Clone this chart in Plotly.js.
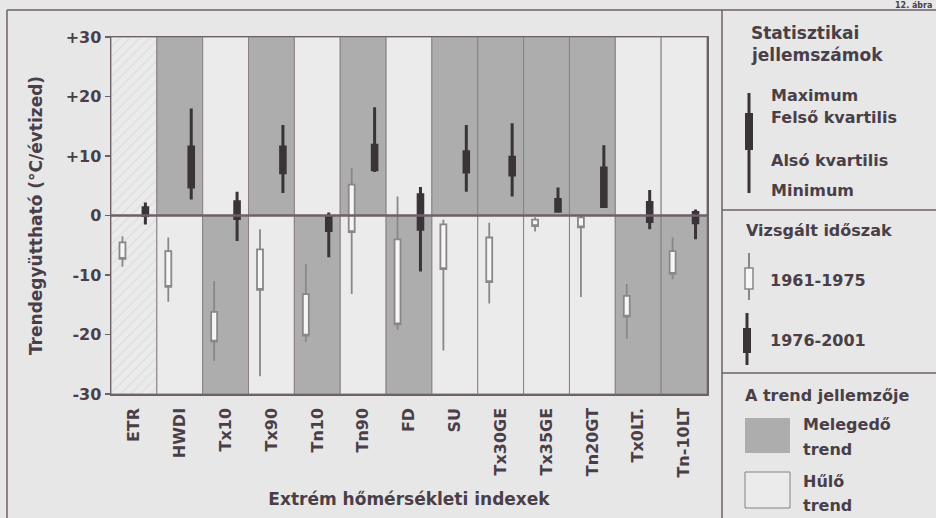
<!DOCTYPE html>
<html>
<head>
<meta charset="utf-8">
<script src="https://cdn.plot.ly/plotly-3.0.1.min.js"></script>
<style>
  html, body { margin: 0; padding: 0; background: #e7e7e7; }
  #chart { width: 936px; height: 518px; }
</style>
</head>
<body>
<div id="chart"></div>
<script>
// Extreme temperature indices
const categories = ['ETR', 'HWDI', 'Tx10', 'Tx90', 'Tn10', 'Tn90', 'FD', 'SU',
                    'Tx30GE', 'Tx35GE', 'Tn20GT', 'Tx0LT.', 'Tn-10LT'];

// +1: a positive trend means warming, -1: a negative trend means warming, 0: undefined
const warmingSign = [0, 1, -1, 1, -1, 1, -1, 1, 1, 1, 1, -1, -1];

// Trend coefficients (°C/decade), period 1961-1975
const earlyMin = [-8.6, -14.5, -24.4, -27.0, -21.2, -13.2, -19.2, -22.7, -14.8, -2.7, -13.7, -20.7, -10.7];
const earlyQ1  = [-7.3, -12.0, -21.2, -12.5, -20.2,  -2.8, -18.3,  -9.0, -11.2, -1.8,  -2.0, -17.0,  -9.8];
const earlyQ3  = [-4.5,  -6.0, -16.2,  -5.7, -13.2,   5.2,  -4.0,  -1.5,  -3.7, -0.7,  -0.3, -13.5,  -6.0];
const earlyMax = [-3.5,  -3.7, -11.0,  -2.3,  -8.2,   8.0,   3.2,  -0.7,  -1.2, -0.3,  -0.1, -11.5,  -3.7];

// Trend coefficients (°C/decade), period 1976-2001
const lateMin = [-1.5,  2.7, -4.3,  3.8, -7.0,  7.3, -9.4,  4.0,  3.2, 0.5,  1.3, -2.3, -4.0];
const lateQ1  = [ 0.0,  4.8, -0.5,  7.2, -2.5,  7.7, -2.3,  7.3,  6.8, 0.7,  1.5, -1.0, -1.2];
const lateQ3  = [ 1.3, 11.5,  2.3, 11.5, -0.3, 11.8,  3.5, 10.7,  9.8, 2.7,  8.0,  2.2,  0.5];
const lateMax = [ 2.2, 18.0,  4.0, 15.2,  0.5, 18.2,  4.8, 15.2, 15.5, 4.7, 11.8,  4.3,  1.0];

const yTickVals = [-30, -20, -10, 0, 10, 20, 30];
const yTickText = ['-30', '-20', '-10', '0', '+10', '+20', '+30'];

const legendTexts = {
  statsTitle: ['Statisztikai', 'jellemszámok'],
  stats: ['Maximum', 'Felső kvartilis', 'Alsó kvartilis', 'Minimum'],
  periodTitle: 'Vizsgált időszak',
  periods: ['1961-1975', '1976-2001'],
  trendTitle: 'A trend jellemzője',
  warm: ['Melegedő', 'trend'],
  cool: ['Hűlő', 'trend']
};

// ---- styling ----
const TEXT = '#4a3f48';
const FRAME = '#6e6069';
const GRAY = '#adadad';
const LIGHT = '#ebebeb';
const DARK = '#3a3438';
const FONT = 'DejaVu Sans';
const YLIM = 30;

const idx = categories.map((_, i) => i);

// Background cells: upper half (positive trend) and lower half (negative trend)
function cellColor(i, half) {
  const s = warmingSign[i];
  if (s === 0) return '#e2e2e2';
  return (s === half) ? GRAY : LIGHT;
}
function cellTrace(half) {
  return {
    type: 'bar',
    x: idx,
    y: idx.map(() => YLIM),
    base: idx.map(() => half === 1 ? 0 : -YLIM),
    width: 1,
    marker: {
      color: idx.map(i => cellColor(i, half)),
      line: { color: '#8b7f88', width: 1 },
      pattern: {
        shape: idx.map(i => warmingSign[i] === 0 ? '/' : ''),
        fgcolor: '#9e9e9e',
        size: 7,
        solidity: 0.3
      }
    },
    hoverinfo: 'skip'
  };
}

const zeroLine = {
  type: 'scatter',
  mode: 'lines',
  x: [-0.5, categories.length - 0.5],
  y: [0, 0],
  line: { color: FRAME, width: 2.5 },
  hoverinfo: 'skip'
};

const earlyBoxes = {
  type: 'box',
  name: legendTexts.periods[0],
  x: idx.map(i => i - 0.25),
  q1: earlyQ1, median: earlyQ1, q3: earlyQ3,
  lowerfence: earlyMin, upperfence: earlyMax,
  width: 0.13,
  whiskerwidth: 0,
  fillcolor: '#f6f6f6',
  line: { color: '#8a8689', width: 1.8 },
  hoverinfo: 'skip'
};

const lateBoxes = {
  type: 'box',
  name: legendTexts.periods[1],
  x: idx.map(i => i + 0.25),
  q1: lateQ1, median: lateQ1, q3: lateQ3,
  lowerfence: lateMin, upperfence: lateMax,
  width: 0.1,
  whiskerwidth: 0,
  fillcolor: DARK,
  line: { color: DARK, width: 3 },
  hoverinfo: 'skip'
};

// ---- page geometry (pixels) ----
const L = 111, T = 37, W = 596, H = 357;
const PX = x => (x - L) / W;
const PY = y => (T + H - y) / H;

function label(text, x, y, size, anchor, yanchor) {
  return {
    xref: 'paper', yref: 'paper', x: PX(x), y: PY(y),
    xanchor: anchor || 'left', yanchor: yanchor || 'middle',
    text: text, showarrow: false,
    font: { family: FONT, size: size || 16, color: TEXT, weight: 'bold' }
  };
}
function line(x0, y0, x1, y1, color, width) {
  return {
    type: 'line', xref: 'paper', yref: 'paper', layer: 'above',
    x0: PX(x0), y0: PY(y0), x1: PX(x1), y1: PY(y1),
    line: { color: color || FRAME, width: width || 1.5 }
  };
}
function rect(x0, y0, x1, y1, fill, color, width) {
  return {
    type: 'rect', xref: 'paper', yref: 'paper', layer: 'above',
    x0: PX(x0), y0: PY(y0), x1: PX(x1), y1: PY(y1),
    fillcolor: fill, line: { color: color || fill, width: width === undefined ? 0 : width }
  };
}

const shapes = [
  // outer frame and legend panel separators
  line(7, 10, 7, 518),
  line(7, 10, 936, 10),
  line(722, 10, 722, 518),
  line(722, 210, 936, 210),
  line(722, 373, 936, 373),
  // statistics key
  line(749, 93, 749, 193, DARK, 3),
  rect(745, 113, 753, 150, DARK),
  // period keys
  line(749, 253, 749, 300, '#8a8689', 2),
  rect(745, 268, 753, 289, '#f6f6f6', '#8a8689', 1.5),
  line(747, 313, 747, 365, DARK, 3),
  rect(743, 328, 751, 353, DARK),
  // trend keys
  rect(745, 418, 790, 453, GRAY),
  rect(745, 472, 790, 508, LIGHT, '#8b7f88', 1)
];

const annotations = [
  label('12. ábra', 934, 5, 8, 'right', 'middle'),
  label(legendTexts.statsTitle[0], 749, 33, 17),
  label(legendTexts.statsTitle[1], 749, 55, 17),
  label(legendTexts.stats[0], 769, 95, 16),
  label(legendTexts.stats[1], 769, 117, 16),
  label(legendTexts.stats[2], 769, 160, 16),
  label(legendTexts.stats[3], 769, 190, 16),
  label(legendTexts.periodTitle, 744, 230, 16),
  label(legendTexts.periods[0], 768, 280, 16),
  label(legendTexts.periods[1], 768, 340, 16),
  label(legendTexts.trendTitle, 743, 395, 16),
  label(legendTexts.warm[0], 801, 425, 16),
  label(legendTexts.warm[1], 801, 450, 16),
  label(legendTexts.cool[0], 801, 481, 16),
  label(legendTexts.cool[1], 801, 505, 16)
];

const tickFont = { family: FONT, size: 16, color: TEXT, weight: 'bold' };

const layout = {
  width: 936, height: 518,
  margin: { l: L, r: 936 - L - W, t: T, b: 518 - T - H },
  paper_bgcolor: '#e7e7e7',
  plot_bgcolor: LIGHT,
  showlegend: false,
  barmode: 'overlay',
  boxmode: 'overlay',
  bargap: 0,
  xaxis: {
    range: [-0.5, categories.length - 0.5],
    tickvals: idx, ticktext: categories,
    tickangle: -90,
    ticks: '', ticklabelstandoff: 6,
    showline: true, mirror: true, linecolor: FRAME, linewidth: 1.5,
    showgrid: false, zeroline: false,
    tickfont: tickFont,
    title: { text: 'Extrém hőmérsékleti indexek', standoff: 16,
             font: { family: FONT, size: 17, color: TEXT, weight: 'bold' } }
  },
  yaxis: {
    range: [-YLIM, YLIM],
    tickvals: yTickVals, ticktext: yTickText,
    ticks: 'outside', ticklen: 5, tickcolor: FRAME, tickwidth: 1.5,
    showline: true, mirror: true, linecolor: FRAME, linewidth: 1.5,
    showgrid: false, zeroline: false,
    tickfont: tickFont,
    title: { text: 'Trendegyüttható (°C/évtized)', standoff: 18,
             font: { family: FONT, size: 17, color: TEXT, weight: 'bold' } }
  },
  shapes: shapes,
  annotations: annotations
};

Plotly.newPlot('chart',
  [cellTrace(1), cellTrace(-1), zeroLine, earlyBoxes, lateBoxes],
  layout,
  { staticPlot: true, displayModeBar: false });
</script>
</body>
</html>
